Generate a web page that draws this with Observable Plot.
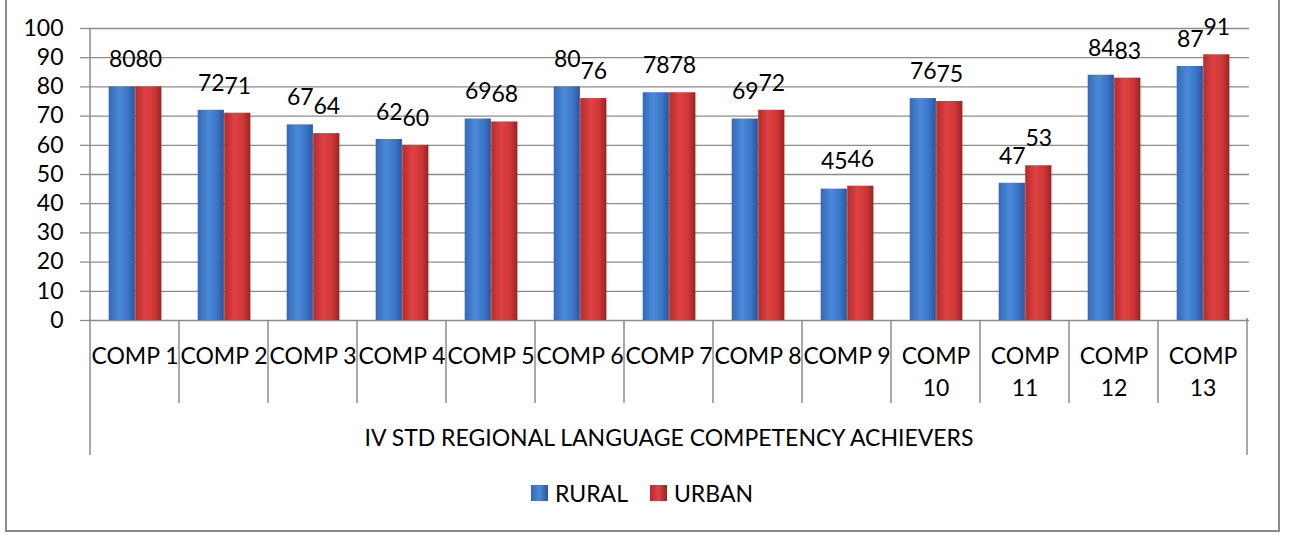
<!DOCTYPE html>
<html><head><meta charset="utf-8">
<script src="https://cdn.jsdelivr.net/npm/d3@7"></script>
<script src="https://cdn.jsdelivr.net/npm/@observablehq/plot@0.6"></script>
<style>
body{margin:0;background:#fff;font-family:Lato,"Liberation Sans",sans-serif;}
#wrap{position:relative;width:1296px;height:535px;overflow:hidden;}
#frame{position:absolute;left:5px;top:-3px;width:1275px;height:535px;border:2px solid #8a8a8a;box-sizing:border-box;}
#chart{position:absolute;left:0;top:0;}
#legend{position:absolute;left:6px;width:1272px;top:479px;display:flex;justify-content:center;align-items:center;font-size:23px;color:#000;}
.sw{width:17px;height:16px;display:inline-block;margin-right:7px;}
.item{display:flex;align-items:center;margin:0 11px;}
</style>
</head><body>
<svg width="0" height="0" style="position:absolute">
  <defs>
    <linearGradient id="gBlue" x1="0" x2="1" y1="0" y2="0">
      <stop offset="0" stop-color="#3568b8"/>
      <stop offset="0.4" stop-color="#4a8ad9"/>
      <stop offset="0.75" stop-color="#3a74c6"/>
      <stop offset="1" stop-color="#2a559c"/>
    </linearGradient>
    <linearGradient id="gRed" x1="0" x2="1" y1="0" y2="0">
      <stop offset="0" stop-color="#b52c2c"/>
      <stop offset="0.4" stop-color="#e04242"/>
      <stop offset="0.75" stop-color="#cc3535"/>
      <stop offset="1" stop-color="#992222"/>
    </linearGradient>
  </defs>
</svg>
<div id="wrap">
  <div id="frame"></div>
  <div id="chart"></div>
  <div id="legend">
    <span class="item"><span class="sw" style="background:linear-gradient(to right,#3568b8,#4a8ad9,#2a559c)"></span>RURAL</span>
    <span class="item"><span class="sw" style="background:linear-gradient(to right,#b52c2c,#e04242,#992222)"></span>URBAN</span>
  </div>
</div>
<script>
const comps = ["COMP 1","COMP 2","COMP 3","COMP 4","COMP 5","COMP 6","COMP 7","COMP 8","COMP 9","COMP 10","COMP 11","COMP 12","COMP 13"];
const rural = [80,72,67,62,69,80,78,69,45,76,47,84,87];
const urban = [80,71,64,60,68,76,78,72,46,75,53,83,91];
const seriesNames = ["RURAL","URBAN"];
const yTicks = [0,10,20,30,40,50,60,70,80,90,100];
const groupLabel = "IV STD REGIONAL LANGUAGE COMPETENCY ACHIEVERS";

const W = 1296, H = 470, mL = 88, mR = 47, mT = 28, mB = 150;
const bw = (W - mL - mR) / comps.length;
const barW = 26.5, gOff = 18.7;
const FS = 23;

const data = comps.flatMap((c, i) => [
  {comp: c, series: seriesNames[0], value: rural[i]},
  {comp: c, series: seriesNames[1], value: urban[i]}
]);
const ruralData = data.filter(d => d.series === "RURAL");
const urbanData = data.filter(d => d.series === "URBAN");

const ruralDx = gOff + barW / 2 - bw / 2;
const urbanDx = gOff + barW * 1.5 - bw / 2;

function separators(index, scales) {
  const x = scales.x, y = scales.y;
  const b = x.bandwidth ? x.bandwidth() : bw;
  const g = d3.create("svg:g").attr("stroke", "#8c8c8c").attr("stroke-width", 1.5);
  const y0 = y(0);
  const edges = comps.map(c => x(c)).concat([x(comps[comps.length - 1]) + b]);
  edges.forEach((px, i) => {
    const outer = i === 0 || i === edges.length - 1;
    g.append("line")
      .attr("x1", px).attr("x2", px)
      .attr("y1", i === 0 ? y(100) : y0 - (outer ? 2 : 0))
      .attr("y2", y0 + (outer ? 135 : 83));
  });
  return g.node();
}

const chart = Plot.plot({
  width: W, height: H,
  marginLeft: mL, marginRight: mR, marginTop: mT, marginBottom: mB,
  style: {fontFamily: "Lato, 'Liberation Sans', sans-serif", color: "#000", background: "transparent", overflow: "visible"},
  x: {domain: comps, padding: 0, axis: null},
  y: {domain: [0, 100], axis: null},
  marks: [
    Plot.gridY(yTicks, {stroke: "#8c8c8c", strokeOpacity: 1, strokeWidth: 1.3}),
    Plot.axisY(yTicks, {tickSize: 8, tickPadding: 17, fontSize: FS, stroke: "#8c8c8c", strokeWidth: 1.3, label: null, fill: "#000"}),
    Plot.barY(ruralData, {x: "comp", y: "value", fill: "url(#gBlue)", insetLeft: gOff, insetRight: bw - gOff - barW}),
    Plot.barY(urbanData, {x: "comp", y: "value", fill: "url(#gRed)", insetLeft: gOff + barW, insetRight: bw - gOff - 2 * barW}),
    Plot.text(ruralData, {x: "comp", y: "value", text: d => String(d.value), dx: ruralDx, dy: -27, fontSize: FS, fill: "#000"}),
    Plot.text(urbanData, {x: "comp", y: "value", text: d => String(d.value), dx: urbanDx, dy: -27, fontSize: FS, fill: "#000"}),
    Plot.text(comps, {x: d => d, frameAnchor: "bottom", lineAnchor: "top", dy: 21, lineHeight: 1.38,
      text: d => d.length > 6 ? d.replace(" ", "\n") : d, fontSize: FS, fill: "#000"}),
    Plot.text([groupLabel], {frameAnchor: "bottom", lineAnchor: "middle", dy: 118, fontSize: FS, fill: "#000"}),
    separators
  ]
});
document.getElementById("chart").appendChild(chart);
</script>
</body></html>
